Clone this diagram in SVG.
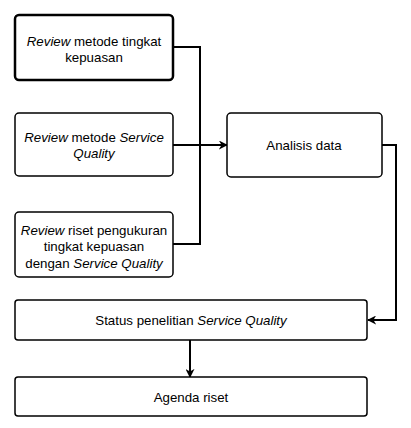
<svg xmlns="http://www.w3.org/2000/svg" width="411" height="428" viewBox="0 0 411 428">
<style>
.box{fill:#fff;stroke:#000;stroke-width:1.5}
.thick{stroke-width:2.5}
.t{font-family:"Liberation Sans",Arial,sans-serif;font-size:13.3px;fill:#000;text-anchor:middle}
.i{font-style:italic}
.c{fill:none;stroke:#000;stroke-width:2}
</style>
<defs>
<marker id="ah" viewBox="0 0 10 10" refX="9" refY="5" markerWidth="4.5" markerHeight="4.5" orient="auto" markerUnits="strokeWidth">
<path d="M0,0 L10,5 L0,10 L3,5 Z" fill="#000"/>
</marker>
</defs>
<rect width="411" height="428" fill="#fff"/>
<g id="connectors">
<path class="c" d="M173,47 H200 V244 H173"/>
<path class="c" d="M173,145 H227" marker-end="url(#ah)"/>
<path class="c" d="M382,145 H396 V320 H368" marker-end="url(#ah)"/>
<path class="c" d="M190,340 V377" marker-end="url(#ah)"/>
</g>
<g id="n1">
<rect class="box thick" x="15" y="15" width="158" height="65" rx="4"/>
<text class="t" x="94" y="46"><tspan class="i">Review</tspan> metode tingkat</text>
<text class="t" x="94" y="62">kepuasan</text>
</g>
<g id="n2">
<rect class="box" x="15" y="113" width="158" height="63" rx="4"/>
<text class="t" x="94" y="142"><tspan class="i">Review</tspan> metode <tspan class="i">Service</tspan></text>
<text class="t" x="94" y="158" font-style="italic">Quality</text>
</g>
<g id="n3">
<rect class="box" x="15" y="212" width="158" height="65" rx="4"/>
<text class="t" x="94" y="235"><tspan class="i">Review</tspan> riset pengukuran</text>
<text class="t" x="94" y="251">tingkat kepuasan</text>
<text class="t" x="94" y="268">dengan <tspan class="i">Service Quality</tspan></text>
</g>
<g id="n4">
<rect class="box" x="227" y="113" width="155" height="64" rx="4"/>
<text class="t" x="304" y="150">Analisis data</text>
</g>
<g id="n5">
<rect class="box" x="15" y="300" width="352" height="40" rx="3"/>
<text class="t" x="191" y="325">Status penelitian <tspan class="i">Service Quality</tspan></text>
</g>
<g id="n6">
<rect class="box" x="15" y="377" width="352" height="39" rx="3"/>
<text class="t" x="191" y="402">Agenda riset</text>
</g>
</svg>
